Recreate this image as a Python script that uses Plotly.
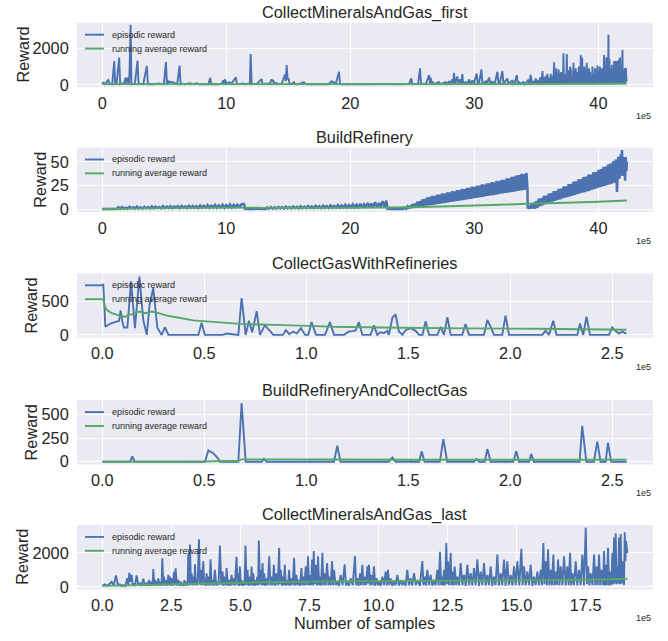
import plotly.graph_objects as go

# ---------------- text ----------------
titles = ["CollectMineralsAndGas_first", "BuildRefinery", "CollectGasWithRefineries",
          "BuildRefineryAndCollectGas", "CollectMineralsAndGas_last"]
series_names = ["episodic reward", "running average reward"]
x_offset_label = "1e5"
x_title = "Number of samples"
y_title = "Reward"

# ---------------- data (x in units of 1e5 samples) ----------------
# Panel 1: CollectMineralsAndGas_first
p1_episodic = [
    (0.0, 60), (0.08, 120), (0.22, 40), (0.35, 150), (0.49, 260), (0.62, 50), (0.81, 30), (0.97, 1300),
    (1.05, 40), (1.16, 60), (1.37, 1490), (1.45, 40), (1.56, 80), (1.75, 60), (1.90, 400), (1.96, 60),
    (2.10, 420), (2.18, 60), (2.29, 3280), (2.36, 40), (2.42, 60), (2.63, 50), (2.85, 1320), (2.93, 40),
    (3.04, 60), (3.31, 40), (3.60, 1030), (3.68, 40), (3.85, 50), (4.17, 30), (4.52, 80), (4.79, 40),
    (4.97, 30), (5.14, 1250), (5.22, 40), (5.32, 200), (5.42, 140), (5.51, 170), (5.67, 150), (5.86, 100),
    (6.05, 40), (6.24, 1050), (6.32, 40), (6.42, 60), (6.67, 30), (7.07, 90), (7.34, 30), (7.6, 90),
    (7.88, 30), (8.28, 40), (8.55, 30), (8.71, 385), (8.79, 40), (8.87, 50), (9.22, 30), (9.63, 40),
    (9.76, 250), (9.84, 50), (9.9, 300), (10.03, 50), (10.24, 150), (10.38, 60), (10.57, 200), (10.7, 350),
    (10.78, 380), (10.86, 50), (10.97, 40), (11.37, 80), (11.5, 30), (11.78, 60), (11.9, 40), (11.97, 1690),
    (12.05, 40), (12.13, 50), (12.45, 40), (12.85, 310), (12.93, 40), (13.12, 60), (13.53, 80), (13.66, 300),
    (13.74, 200), (13.8, 220), (13.9, 60), (14.06, 100), (14.2, 40), (14.47, 50), (14.73, 570), (14.8, 200),
    (14.87, 1080), (14.95, 300), (15.03, 350), (15.1, 40), (15.27, 50), (15.46, 150), (15.55, 40), (15.81, 30),
    (16.26, 150), (16.34, 40), (16.6, 30), (16.88, 50), (17.29, 30), (17.82, 40), (18.23, 30), (18.5, 200),
    (18.6, 150), (18.69, 150), (18.82, 40), (19.09, 715), (19.17, 40), (19.36, 30), (20.03, 40), (21.37, 30),
    (22.72, 40), (24.06, 30), (24.73, 40), (24.92, 350), (25.0, 40), (25.14, 50), (25.46, 40), (25.62, 900),
    (25.70, 40), (25.81, 60), (26.08, 40), (26.35, 530), (26.42, 100), (26.48, 400), (26.55, 60), (26.62, 200),
    (26.7, 40), (26.88, 80), (27.15, 150), (27.25, 40), (27.42, 80), (27.69, 150), (27.8, 40), (27.96, 200),
    (28.05, 50), (28.23, 300), (28.3, 80), (28.36, 660), (28.45, 60), (28.63, 450), (28.7, 50), (28.85, 300),
    (28.95, 40), (29.03, 590), (29.1, 50), (29.30, 150), (29.4, 40), (29.57, 300), (29.65, 60), (29.84, 250),
    (29.95, 40), (30.19, 620), (30.28, 50), (30.38, 100), (30.57, 840), (30.65, 40), (30.73, 100), (30.92, 200),
    (31.0, 40), (31.19, 400), (31.3, 50), (31.45, 200), (31.55, 40), (31.67, 150), (31.86, 715), (31.95, 50),
    (32.05, 100), (32.26, 750), (32.35, 60), (32.45, 150), (32.66, 350), (32.75, 40), (32.85, 100), (33.07, 250),
    (33.15, 40), (33.25, 100), (33.42, 530), (33.5, 40), (33.60, 150), (33.74, 60), (33.95, 150), (34.05, 40),
    (34.14, 100), (34.33, 250), (34.45, 50), (34.54, 550), (34.65, 60), (34.76, 200), (34.85, 40), (34.95, 350),
    (35.05, 60), (35.08, 250), (35.2, 40), (35.30, 400), (35.4, 30), (35.49, 750), (35.55, 40), (35.62, 400),
    (35.7, 30), (35.75, 500), (35.82, 40), (35.89, 600), (35.95, 30), (36.02, 400), (36.1, 40), (36.16, 600),
    (36.22, 30), (36.29, 500), (36.36, 40), (36.43, 1230), (36.47, 40), (36.51, 500), (36.56, 30), (36.61, 900),
    (36.65, 40), (36.69, 500), (36.75, 30), (36.80, 840), (36.84, 40), (36.88, 600), (36.94, 30), (36.99, 700),
    (37.04, 40), (37.10, 400), (37.14, 30), (37.18, 1720), (37.22, 40), (37.26, 600), (37.32, 30), (37.37, 500),
    (37.41, 40), (37.45, 1690), (37.50, 40), (37.55, 800), (37.6, 30), (37.64, 500), (37.68, 40), (37.72, 1000),
    (37.75, 40), (37.77, 900), (37.83, 30), (37.88, 500), (37.94, 40), (37.99, 1210), (38.03, 30), (38.07, 800),
    (38.12, 40), (38.17, 900), (38.21, 30), (38.25, 700), (38.28, 40), (38.31, 400), (38.37, 30), (38.42, 1000),
    (38.46, 40), (38.50, 700), (38.54, 30), (38.58, 1630), (38.63, 40), (38.69, 1500), (38.73, 30), (38.77, 800),
    (38.82, 40), (38.87, 1000), (38.91, 30), (38.95, 600), (39.0, 40), (39.06, 1210), (39.1, 30), (39.14, 800),
    (39.2, 40), (39.25, 900), (39.29, 30), (39.33, 700), (39.38, 40), (39.44, 500), (39.48, 30), (39.52, 1000),
    (39.57, 40), (39.62, 600), (39.67, 30), (39.73, 900), (39.77, 40), (39.81, 500), (39.86, 30), (39.92, 1050),
    (39.96, 40), (40.00, 700), (40.05, 30), (40.11, 1000), (40.15, 40), (40.19, 600), (40.23, 30), (40.27, 900),
    (40.31, 40), (40.35, 500), (40.40, 30), (40.46, 1630), (40.50, 40), (40.54, 1000), (40.6, 30), (40.65, 1500),
    (40.69, 40), (40.73, 800), (40.77, 30), (40.81, 2730), (40.85, 40), (40.89, 1400), (40.92, 30), (40.94, 900),
    (40.98, 40), (41.02, 700), (41.05, 30), (41.08, 1100), (41.12, 40), (41.16, 500), (41.22, 30), (41.27, 1300),
    (41.30, 40), (41.32, 900), (41.36, 30), (41.40, 1300), (41.44, 40), (41.48, 1000), (41.51, 30), (41.54, 1300),
    (41.58, 40), (41.62, 800), (41.65, 30), (41.67, 1400), (41.71, 40), (41.75, 1500), (41.78, 30), (41.80, 700),
    (41.83, 40), (41.86, 900), (41.9, 30), (41.94, 1900), (41.97, 40), (42.0, 800), (42.04, 30), (42.07, 500),
    (42.1, 40), (42.13, 900), (42.17, 30), (42.21, 930), (42.26, 300), (42.30, 200),
]
p1_average = [(0, 40), (5, 42), (10, 42), (15, 42), (20, 40), (25, 40), (30, 44), (35, 50),
              (38, 55), (40, 60), (42.3, 65)]

# Panel 2: BuildRefinery
p2_episodic = [
    (0.0, 0.0), (0.6, 0.1), (1.2, 0.2),
    (1.30, 1.9), (1.45, 0.3), (1.60, 2.1), (1.75, 0.6), (1.90, 1.6), (2.05, 0.4), (2.20, 2.3), (2.35, 0.8),
    (2.50, 2.0), (2.65, 0.5), (2.80, 2.6), (2.95, 0.7), (3.10, 1.8), (3.25, 0.6), (3.40, 2.4), (3.55, 0.9),
    (3.70, 2.2), (3.85, 0.5), (4.00, 2.8), (4.15, 0.8), (4.30, 2.5), (4.45, 1.0), (4.60, 2.1), (4.75, 0.7),
    (4.90, 3.0), (5.05, 0.9), (5.20, 2.6), (5.35, 1.1), (5.50, 3.2), (5.65, 0.8), (5.80, 2.7), (5.95, 1.2),
    (6.10, 3.1), (6.25, 0.9), (6.40, 3.4), (6.55, 1.3), (6.70, 2.9), (6.85, 1.0), (7.00, 3.6), (7.15, 1.2),
    (7.30, 3.3), (7.45, 1.4), (7.60, 3.0), (7.75, 1.1), (7.90, 3.8), (8.05, 1.3), (8.20, 3.5), (8.35, 1.5),
    (8.50, 4.1), (8.65, 1.2), (8.80, 3.7), (8.95, 1.6), (9.10, 4.4), (9.25, 1.4), (9.40, 3.9), (9.55, 1.7),
    (9.70, 4.6), (9.85, 1.3), (10.00, 4.2), (10.15, 1.8), (10.30, 4.9), (10.45, 1.5), (10.60, 4.5), (10.75, 1.9),
    (10.90, 5.3), (11.05, 1.6), (11.20, 4.8), (11.35, 5.5), (11.45, 4.9), (11.5, 0.3),
    (12.0, 0.2), (12.6, 0.3), (13.2, 0.2),
    (13.30, 1.7), (13.45, 0.3), (13.60, 2.0), (13.75, 0.5), (13.90, 1.8), (14.05, 0.4), (14.20, 2.3), (14.35, 0.6),
    (14.50, 2.1), (14.65, 0.5), (14.80, 2.5), (14.95, 0.8), (15.10, 2.2), (15.25, 0.6), (15.40, 2.7), (15.55, 0.9),
    (15.70, 2.4), (15.85, 0.7), (16.00, 2.9), (16.15, 1.0), (16.30, 2.6), (16.45, 0.8), (16.60, 3.1), (16.75, 1.1),
    (16.90, 2.8), (17.05, 0.9), (17.20, 3.4), (17.35, 1.2), (17.50, 3.0), (17.65, 1.0), (17.80, 3.6), (17.95, 1.3),
    (18.10, 3.3), (18.25, 1.2), (18.40, 3.9), (18.55, 1.4), (18.70, 3.5), (18.85, 1.3), (19.00, 4.2), (19.15, 1.5),
    (19.30, 3.8), (19.45, 1.6), (19.60, 4.6), (19.75, 1.5), (19.90, 4.2), (20.05, 1.8), (20.20, 5.0), (20.35, 1.7),
    (20.50, 4.6), (20.65, 2.0), (20.80, 5.6), (20.95, 1.9), (21.10, 5.1), (21.25, 2.2), (21.40, 6.3), (21.55, 2.1),
    (21.70, 5.7), (21.85, 2.4), (22.00, 7.2), (22.15, 2.3), (22.30, 6.5), (22.45, 2.6), (22.60, 8.3), (22.75, 2.5),
    (22.90, 8.8), (23.0, 0.2), (23.4, 0.1), (23.8, 0.3), (24.2, 0.2),
    (24.3, 0.3), (24.4, 1.5), (24.5, 0.3), (24.6, 2.6), (24.7, 0.6), (24.8, 3.4), (24.9, 1.0), (25.0, 5.1),
    (25.1, 1.5), (25.2, 5.8), (25.3, 2.0), (25.4, 7.6), (25.5, 2.4), (25.6, 8.3), (25.7, 2.9), (25.8, 10.2),
    (25.9, 3.3), (26.0, 10.8), (26.1, 3.7), (26.2, 12.3), (26.3, 4.0), (26.4, 12.8), (26.5, 4.3), (26.6, 13.9),
    (26.7, 4.6), (26.8, 14.0), (26.9, 5.0), (27.0, 15.3), (27.1, 5.5), (27.2, 15.2), (27.3, 5.8), (27.4, 16.5),
    (27.5, 6.3), (27.6, 16.4), (27.7, 6.7), (27.8, 17.7), (27.9, 7.0), (28.0, 17.6), (28.1, 7.6), (28.2, 18.9),
    (28.3, 7.9), (28.4, 18.8), (28.5, 8.4), (28.6, 20.1), (28.7, 8.7), (28.8, 19.9), (28.9, 9.3), (29.0, 21.3),
    (29.1, 9.6), (29.2, 21.1), (29.3, 10.0), (29.4, 22.5), (29.5, 10.6), (29.6, 22.3), (29.7, 10.9), (29.8, 23.7),
    (29.9, 11.3), (30.0, 23.5), (30.1, 11.9), (30.2, 24.9), (30.3, 12.1), (30.4, 24.8), (30.5, 12.7), (30.6, 26.1),
    (30.7, 13.0), (30.8, 25.9), (30.9, 13.6), (31.0, 27.3), (31.1, 13.9), (31.2, 27.1), (31.3, 14.5), (31.4, 28.5),
    (31.5, 14.7), (31.6, 28.3), (31.7, 15.3), (31.8, 29.7), (31.9, 15.6), (32.0, 29.6), (32.1, 16.2), (32.2, 30.9),
    (32.3, 16.5), (32.4, 31.0), (32.5, 17.0), (32.6, 32.5), (32.7, 17.4), (32.8, 32.6), (32.9, 17.9), (33.0, 34.1),
    (33.1, 18.2), (33.2, 34.2), (33.3, 18.8), (33.4, 35.7), (33.5, 19.1), (33.6, 35.8), (33.7, 19.7), (33.8, 37.2),
    (33.9, 20.0), (34.0, 37.1), (34.1, 20.6), (34.2, 38.4), (34.28, 21.5), (34.3, 0.5),
    (34.4, 3.0), (34.5, 0.3), (34.6, 5.0), (34.7, 0.6), (34.8, 7.0), (34.9, 0.4), (35.0, 8.5), (35.1, 1.5),
    (35.2, 11.0), (35.3, 3.0), (35.4, 11.6), (35.5, 4.0), (35.6, 13.8), (35.7, 5.0), (35.8, 14.2), (35.9, 6.0),
    (36.0, 16.4), (36.1, 7.0), (36.2, 16.8), (36.3, 8.0), (36.4, 18.9), (36.5, 8.8), (36.6, 19.2), (36.7, 9.6),
    (36.8, 21.4), (36.9, 10.4), (37.0, 21.7), (37.1, 11.2), (37.2, 23.9), (37.3, 12.0), (37.4, 24.1), (37.5, 12.7),
    (37.6, 26.4), (37.7, 13.5), (37.8, 26.6), (37.9, 14.3), (38.0, 28.9), (38.1, 15.0), (38.2, 29.2), (38.3, 15.8),
    (38.4, 31.4), (38.5, 16.5), (38.6, 31.7), (38.7, 17.3), (38.8, 33.9), (38.9, 18.0), (39.0, 34.2), (39.1, 18.8),
    (39.2, 36.4), (39.3, 19.6), (39.4, 36.7), (39.5, 20.4), (39.6, 38.9), (39.7, 21.3), (39.8, 39.2), (39.9, 22.0),
    (40.0, 41.4), (40.1, 22.8), (40.2, 42.2), (40.3, 23.6), (40.4, 44.4), (40.5, 24.4), (40.6, 45.2), (40.7, 25.2),
    (40.8, 47.4), (40.9, 26.0), (41.0, 48.3), (41.1, 26.8), (41.2, 50.8), (41.3, 28.0), (41.4, 52.3), (41.5, 18.0),
    (41.6, 55.4), (41.7, 32.0), (41.8, 58.0), (41.85, 36.0), (41.9, 62.5), (41.95, 35.0), (42.0, 55.0),
    (42.05, 40.0), (42.1, 53.0), (42.15, 30.0), (42.2, 55.0), (42.25, 40.0), (42.3, 50.0),
]
p2_average = [(0, 0.0), (2, 0.5), (5, 1.0), (8, 1.3), (11.5, 1.5), (13, 1.3), (16, 1.2), (20, 1.3),
              (23, 1.6), (25, 2.0), (28, 3.0), (30, 3.7), (32, 4.5), (34.3, 5.6), (36, 6.2), (38, 7.0),
              (40, 7.8), (42.3, 9.0)]

# Panel 3: CollectGasWithRefineries
p3_episodic = [
    (0.0, 750), (0.005, 740), (0.015, 120), (0.03, 150), (0.046, 175), (0.07, 195), (0.082, 205), (0.09, 360),
    (0.098, 200), (0.106, 110), (0.123, 110), (0.141, 790), (0.16, 100), (0.182, 860), (0.201, 220), (0.218, 0),
    (0.232, 450), (0.25, 690), (0.27, 105), (0.291, 0), (0.307, 115), (0.324, 0), (0.471, 0), (0.487, 180),
    (0.503, 0), (0.59, 0), (0.61, 20), (0.667, 0), (0.683, 545), (0.703, 0), (0.719, 210), (0.735, 40),
    (0.757, 350), (0.773, 0), (0.797, 140), (0.822, 60), (0.838, 0), (0.885, 0), (0.9, 70), (0.917, 10),
    (0.936, 50), (0.953, 20), (0.974, 100), (0.994, 0), (1.01, 0), (1.026, 190), (1.048, 0), (1.092, 0),
    (1.116, 190), (1.136, 0), (1.185, 0), (1.21, 50), (1.226, 55), (1.242, 65), (1.258, 190), (1.275, 0),
    (1.315, 0), (1.332, 140), (1.348, 0), (1.364, 40), (1.381, 25), (1.397, 60), (1.405, 0), (1.422, 250),
    (1.438, 305), (1.454, 50), (1.471, 0), (1.487, 70), (1.512, 100), (1.536, 60), (1.553, 0), (1.57, 0),
    (1.585, 200), (1.602, 0), (1.643, 0), (1.659, 120), (1.675, 0), (1.692, 260), (1.708, 0), (1.765, 0),
    (1.781, 160), (1.798, 0), (1.871, 0), (1.888, 220), (1.907, 100), (1.92, 0), (1.961, 0), (1.977, 285),
    (1.994, 0), (2.157, 0), (2.173, 60), (2.19, 0), (2.211, 210), (2.227, 0), (2.329, 0), (2.342, 170),
    (2.358, 0), (2.374, 270), (2.391, 0), (2.484, 0), (2.5, 110), (2.516, 60), (2.533, 20), (2.549, 50),
    (2.56, 30), (2.57, 20),
]
p3_average = [(0.0, 525), (0.005, 520), (0.013, 420), (0.021, 370), (0.046, 320), (0.07, 300), (0.111, 265),
              (0.128, 300), (0.144, 300), (0.169, 335), (0.185, 345), (0.21, 320), (0.243, 345), (0.268, 330),
              (0.317, 285), (0.383, 250), (0.446, 215), (0.511, 200), (0.61, 178), (0.675, 163), (0.773, 154),
              (0.887, 144), (1.05, 130), (1.13, 120), (1.46, 106), (1.79, 96), (2.12, 91), (2.57, 77)]

# Panel 4: BuildRefineryAndCollectGas
p4_episodic = [
    (0.0, 0), (0.136, 0), (0.147, 55), (0.16, 0), (0.503, 0), (0.52, 120), (0.544, 90), (0.569, 30),
    (0.577, 0), (0.667, 0), (0.683, 620), (0.703, 0), (0.781, 0), (0.793, 30), (0.806, 0), (1.136, 0),
    (1.152, 170), (1.168, 0), (1.405, 0), (1.422, 45), (1.438, 0), (1.553, 0), (1.566, 110), (1.58, 0),
    (1.655, 0), (1.672, 240), (1.691, 0), (1.822, 0), (1.835, 30), (1.848, 0), (1.875, 0), (1.888, 134),
    (1.904, 0), (2.015, 0), (2.03, 110), (2.043, 0), (2.092, 0), (2.103, 80), (2.116, 0), (2.34, 0),
    (2.353, 380), (2.373, 0), (2.41, 0), (2.427, 213), (2.443, 0), (2.468, 0), (2.479, 200), (2.495, 0),
    (2.571, 0),
]
p4_average = [(0.0, 0), (0.5, 1), (0.52, 3), (0.58, 8), (0.667, 9), (0.683, 24), (0.8, 24), (1.15, 23),
              (1.5, 21), (2.0, 20), (2.35, 20), (2.571, 22)]

# Panel 5: CollectMineralsAndGas_last
p5_episodic = [
    (0.0, 80), (0.097, 150), (0.18, 60), (0.278, 200), (0.338, 300), (0.41, 80), (0.495, 670), (0.567, 100),
    (0.64, 150), (0.70, 50), (0.76, 100), (0.832, 40), (0.905, 510), (0.94, 100), (0.977, 820), (1.025, 300),
    (1.061, 700), (1.1, 80), (1.122, 200), (1.182, 60), (1.243, 670), (1.303, 80), (1.363, 200), (1.424, 50),
    (1.484, 480), (1.545, 80), (1.605, 200), (1.653, 60), (1.69, 400), (1.738, 80), (1.786, 300), (1.822, 60),
    (1.846, 1050), (1.883, 100), (1.907, 400), (1.967, 60), (2.027, 500), (2.076, 80), (2.112, 300), (2.148, 60),
    (2.172, 1680), (2.209, 100), (2.233, 600), (2.269, 80), (2.305, 400), (2.353, 60), (2.39, 700), (2.426, 100),
    (2.45, 600), (2.486, 60), (2.51, 500), (2.559, 80), (2.595, 900), (2.631, 100), (2.655, 1090), (2.703, 80),
    (2.752, 400), (2.8, 60), (2.848, 300), (2.884, 80), (2.908, 200), (2.945, 60), (2.969, 400), (3.017, 80),
    (3.053, 300), (3.089, 60), (3.114, 1960), (3.15, 100), (3.174, 2480), (3.21, 150), (3.234, 800), (3.27, 80),
    (3.294, 600), (3.331, 100), (3.355, 1330), (3.391, 80), (3.415, 500), (3.451, 100), (3.499, 2800), (3.536, 150),
    (3.572, 1000), (3.6, 80), (3.656, 1500), (3.692, 100), (3.716, 500), (3.753, 60), (3.777, 800), (3.813, 100),
    (3.837, 600), (3.885, 80), (3.921, 1620), (3.958, 100), (3.982, 400), (4.03, 60), (4.078, 1000), (4.126, 80),
    (4.162, 300), (4.21, 100), (4.259, 2420), (4.307, 120), (4.355, 900), (4.391, 60), (4.439, 600), (4.475, 100),
    (4.499, 1100), (4.548, 80), (4.584, 400), (4.632, 60), (4.68, 700), (4.716, 100), (4.74, 500), (4.801, 80),
    (4.861, 1770), (4.897, 100), (4.921, 800), (4.957, 60), (4.981, 1200), (5.018, 100), (5.042, 400), (5.078, 60),
    (5.102, 300), (5.15, 80), (5.186, 2420), (5.223, 120), (5.259, 1000), (5.295, 60), (5.343, 600), (5.379, 100),
    (5.403, 1200), (5.439, 80), (5.464, 800), (5.512, 60), (5.548, 400), (5.584, 100), (5.608, 600), (5.644, 80),
    (5.668, 2720), (5.705, 150), (5.729, 1000), (5.765, 80), (5.801, 1400), (5.837, 100), (5.861, 800), (5.909, 60),
    (5.946, 500), (5.994, 100), (6.042, 1800), (6.09, 80), (6.126, 600), (6.174, 100), (6.211, 1300), (6.259, 60),
    (6.307, 800), (6.355, 100), (6.403, 2290), (6.427, 150), (6.463, 1000), (6.512, 60), (6.548, 600), (6.572, 100),
    (6.608, 1300), (6.644, 80), (6.692, 400), (6.728, 100), (6.764, 1000), (6.801, 60), (6.849, 500), (6.897, 100),
    (6.945, 1700), (6.981, 80), (7.029, 700), (7.065, 100), (7.114, 400), (7.162, 60), (7.21, 1100), (7.246, 100),
    (7.27, 600), (7.318, 80), (7.367, 1200), (7.403, 100), (7.451, 1800), (7.487, 80), (7.511, 700), (7.559, 100),
    (7.596, 1600), (7.632, 80), (7.656, 2100), (7.692, 150), (7.728, 1300), (7.776, 80), (7.812, 1800), (7.849, 100),
    (7.873, 600), (7.921, 80), (7.969, 2000), (8.005, 100), (8.053, 800), (8.089, 80), (8.138, 1400), (8.186, 100),
    (8.234, 600), (8.27, 80), (8.318, 1500), (8.354, 100),
    (8.389, 1000), (8.45, 100), (8.509, 300), (8.57, 60), (8.63, 700), (8.70, 100), (8.775, 1330), (8.82, 80),
    (8.872, 300), (8.93, 60), (8.992, 500), (9.07, 100), (9.149, 1810), (9.19, 100), (9.234, 500), (9.28, 60),
    (9.33, 800), (9.37, 100), (9.415, 1300), (9.46, 80), (9.499, 600), (9.55, 100), (9.596, 1200), (9.626, 200),
    (9.656, 1300), (9.70, 80), (9.741, 700), (9.79, 100), (9.837, 1200), (9.88, 60), (9.934, 500), (9.98, 100),
    (10.018, 300), (10.08, 60), (10.139, 600), (10.2, 100), (10.26, 900), (10.30, 80), (10.344, 1000), (10.39, 100),
    (10.441, 500), (10.5, 60), (10.561, 300), (10.62, 100), (10.682, 700), (10.74, 80), (10.803, 400), (10.86, 100),
    (10.924, 300), (10.98, 60), (11.044, 1000), (11.1, 100), (11.165, 500), (11.22, 80), (11.286, 800), (11.35, 100),
    (11.406, 400), (11.5, 60), (11.587, 1520), (11.63, 100), (11.672, 600), (11.72, 80), (11.768, 1000), (11.83, 100),
    (11.889, 700), (11.95, 60), (12.01, 400), (12.07, 100), (12.131, 1000), (12.18, 80), (12.227, 2060), (12.27, 100),
    (12.312, 600), (12.34, 80), (12.372, 1000), (12.41, 100), (12.457, 2570), (12.49, 150), (12.517, 1500), (12.56, 100),
    (12.614, 2000), (12.645, 100), (12.674, 900), (12.72, 80), (12.759, 1200), (12.81, 100), (12.855, 600), (12.92, 80),
    (12.976, 1400), (13.04, 100), (13.097, 700), (13.16, 60), (13.217, 1300), (13.28, 100), (13.338, 800), (13.4, 80),
    (13.459, 1100), (13.52, 100), (13.58, 1600), (13.64, 60), (13.7, 900), (13.76, 100), (13.821, 1400), (13.88, 80),
    (13.942, 700), (14.0, 100), (14.063, 1200), (14.12, 60), (14.183, 600), (14.24, 100), (14.304, 1900), (14.36, 80),
    (14.425, 800), (14.48, 100), (14.545, 1600), (14.6, 60), (14.666, 1500), (14.72, 100), (14.787, 700), (14.85, 80),
    (14.908, 1200), (14.97, 100), (15.028, 1500), (15.1, 80), (15.173, 2230), (15.22, 100), (15.27, 1200), (15.33, 80),
    (15.39, 900), (15.45, 100), (15.511, 1300), (15.57, 60), (15.632, 600), (15.69, 100), (15.753, 900), (15.81, 80),
    (15.873, 1000), (15.92, 100), (15.97, 2570), (16.01, 150), (16.054, 1500), (16.1, 100), (16.139, 2200), (16.19, 80),
    (16.236, 1000), (16.28, 100), (16.332, 1900), (16.37, 80), (16.417, 900), (16.46, 100), (16.502, 1600), (16.55, 80),
    (16.598, 1200), (16.66, 100), (16.719, 1800), (16.78, 80), (16.84, 1200), (16.89, 100), (16.936, 2000), (16.98, 80),
    (17.021, 800), (17.08, 100), (17.142, 1500), (17.2, 80), (17.262, 1000), (17.32, 100), (17.383, 1900), (17.44, 80),
    (17.504, 3490), (17.55, 150), (17.588, 1200), (17.64, 80), (17.685, 800), (17.75, 100), (17.806, 1900), (17.85, 80),
    (17.902, 1200), (17.94, 100), (17.987, 1900), (18.03, 80), (18.083, 1000), (18.13, 100), (18.168, 2100), (18.2, 80),
    (18.228, 1300), (18.27, 100), (18.312, 2300), (18.35, 80), (18.385, 900), (18.43, 100), (18.469, 2000), (18.5, 150),
    (18.53, 2900), (18.56, 200), (18.59, 3140), (18.62, 150), (18.65, 1200), (18.68, 200), (18.711, 2900), (18.74, 150),
    (18.771, 3100), (18.80, 200), (18.831, 1500), (18.867, 300), (18.89, 100), (18.916, 3200), (18.94, 1500),
    (18.964, 2700), (19.012, 2000),
]
p5_average = [(0.0, 60), (1.0, 90), (2.5, 150), (4.0, 200), (5.0, 240), (6.0, 270), (7.5, 310), (9.0, 330),
              (10.0, 340), (12.5, 360), (15.0, 380), (17.5, 420), (18.5, 450), (19.01, 480)]

episodic = [p1_episodic, p2_episodic, p3_episodic, p4_episodic, p5_episodic]
average = [p1_average, p2_average, p3_average, p4_average, p5_average]

# ---------------- layout / style ----------------
W, H = 668, 641
BLUE, GREEN = "#4C72B0", "#55A868"
BG, TXT, FONT = "#EAEAF2", "#262626", "Liberation Sans"
LW = 1.9
ep_widths = [1.9, 2.5, 1.9, 1.9, 1.9]
BIG, SMALL = 16.3, 9
PLOT_L, PLOT_R, PLOT_H = 77, 653, 65
tops = [23, 149, 276, 404, 530]
x_ranges = [[-2.03, 44.4], [-2.03, 44.4], [-0.124, 2.70], [-0.124, 2.70], [-0.916, 19.94]]
x_dticks = [10, 10, 0.5, 0.5, 2.5]
x_formats = ["d", "d", ".1f", ".1f", ".1f"]
y_ranges = [[-126, 3390], [-3.1, 65], [-43, 908], [-31, 651], [-150, 3630]]
y_dticks = [2000, 25, 500, 250, 2000]
ylabel_x = [22.5, 40, 31, 31, 22.5]

fig = go.Figure()
layout = dict(
    width=W, height=H, margin=dict(l=0, r=0, t=0, b=0),
    paper_bgcolor="white", plot_bgcolor=BG, showlegend=False,
    font=dict(family=FONT, color=TXT),
)
annotations, shapes = [], []

for i in range(5):
    n = i + 1
    sfx = "" if n == 1 else str(n)
    xr, yr = "x" + sfx, "y" + sfx
    ex, ey = zip(*episodic[i])
    ax_, ay_ = zip(*average[i])
    fig.add_trace(go.Scatter(x=list(ex), y=list(ey), mode="lines", name=series_names[0],
                             line=dict(color=BLUE, width=ep_widths[i], simplify=False), xaxis=xr, yaxis=yr,
                             hoverinfo="skip"))
    fig.add_trace(go.Scatter(x=list(ax_), y=list(ay_), mode="lines", name=series_names[1],
                             line=dict(color=GREEN, width=LW, simplify=False), xaxis=xr, yaxis=yr,
                             hoverinfo="skip"))
    top = tops[i]
    bot = top + PLOT_H
    layout["xaxis" + sfx] = dict(
        domain=[PLOT_L / W, PLOT_R / W], anchor=yr, range=x_ranges[i], tick0=0, dtick=x_dticks[i],
        tickformat=x_formats[i], showgrid=True, gridcolor="white", gridwidth=1.3, zeroline=False,
        showline=False, ticks="outside", ticklen=1, tickcolor="rgba(0,0,0,0)",
        tickfont=dict(family=FONT, size=BIG, color=TXT), fixedrange=True)
    layout["yaxis" + sfx] = dict(
        domain=[1 - bot / H, 1 - top / H], anchor=xr, range=y_ranges[i], tick0=0, dtick=y_dticks[i],
        showgrid=True, gridcolor="white", gridwidth=1.3, zeroline=False, showline=False,
        ticks="outside", ticklen=4, tickcolor="rgba(0,0,0,0)",
        tickfont=dict(family=FONT, size=BIG, color=TXT), fixedrange=True)
    annotations.append(dict(text=titles[i], x=(PLOT_L + PLOT_R) / 2 / W, y=1 - (top - 10.5) / H,
                            xref="paper", yref="paper", xanchor="center", yanchor="middle",
                            showarrow=False, font=dict(family=FONT, size=BIG, color=TXT)))
    annotations.append(dict(text=y_title, x=ylabel_x[i] / W, y=1 - (top + PLOT_H / 2) / H,
                            xref="paper", yref="paper", xanchor="center", yanchor="middle",
                            textangle=-90, showarrow=False, font=dict(family=FONT, size=BIG, color=TXT)))
    annotations.append(dict(text=x_offset_label, x=PLOT_R / W, y=1 - (bot + 29) / H,
                            xref="paper", yref="paper", xanchor="right", yanchor="middle",
                            showarrow=False, font=dict(family=FONT, size=SMALL, color=TXT)))
    for k, (name, col) in enumerate(zip(series_names, [BLUE, GREEN])):
        yy = 1 - (12 + 14 * k) / PLOT_H
        shapes.append(dict(type="line", xref=xr + " domain", yref=yr + " domain",
                           x0=(85 - PLOT_L) / (PLOT_R - PLOT_L), x1=(104 - PLOT_L) / (PLOT_R - PLOT_L),
                           y0=yy, y1=yy, line=dict(color=col, width=LW)))
        annotations.append(dict(text=name, xref=xr + " domain", yref=yr + " domain",
                                x=(110 - PLOT_L) / (PLOT_R - PLOT_L), y=yy, xanchor="left", yanchor="middle",
                                showarrow=False, font=dict(family=FONT, size=SMALL, color=TXT)))

annotations.append(dict(text=x_title, x=(PLOT_L + PLOT_R) / 2 / W, y=1 - 629 / H, xref="paper", yref="paper",
                        xanchor="center", yanchor="middle", showarrow=False,
                        font=dict(family=FONT, size=BIG, color=TXT)))

layout["annotations"] = annotations
layout["shapes"] = shapes
fig.update_layout(**layout)
fig.write_html("out.html", config={"displayModeBar": False},
               post_script="document.body.style.margin='0';document.body.style.overflow='hidden';")
